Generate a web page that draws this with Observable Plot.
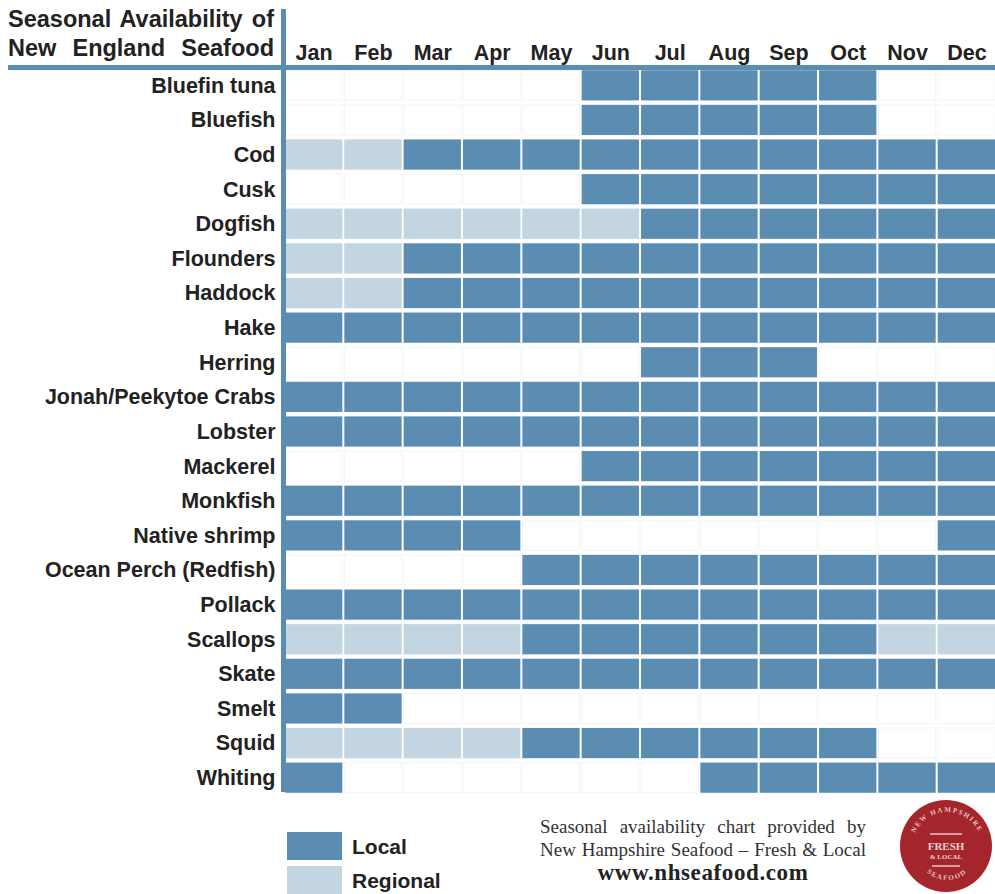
<!DOCTYPE html>
<html>
<head>
<meta charset="utf-8">
<script src="https://cdn.jsdelivr.net/npm/d3@7"></script>
<script src="https://cdn.jsdelivr.net/npm/@observablehq/plot@0.6"></script>
<style>
  html, body { margin: 0; padding: 0; background: #fff; }
  #wrap { position: relative; width: 995px; height: 894px; overflow: hidden; font-family: "Liberation Sans", Arial, sans-serif; color: #222; }
  #chart { position: absolute; left: 0; top: 0; }
  .title { position: absolute; left: 8px; width: 266px; font-weight: bold; font-size: 23.5px; line-height: 24px; text-align: justify; text-align-last: justify; white-space: nowrap; }
  .bar { position: absolute; background: #5b8cb1; }
  .sw { position: absolute; left: 287px; width: 55px; height: 28px; }
  .lg { position: absolute; left: 352px; font-weight: bold; font-size: 21px; line-height: 21px; }
  .cap { position: absolute; left: 540px; width: 326px; font-family: "Liberation Serif", "DejaVu Serif", serif; font-size: 19px; line-height: 19px; color: #333; text-align: justify; text-align-last: justify; white-space: nowrap; }
</style>
</head>
<body>
<div id="wrap">
  <div id="chart"></div>
</div>
<script>
const months = ["Jan","Feb","Mar","Apr","May","Jun","Jul","Aug","Sep","Oct","Nov","Dec"];
const fish = ["Bluefin tuna","Bluefish","Cod","Cusk","Dogfish","Flounders","Haddock","Hake","Herring",
  "Jonah/Peekytoe Crabs","Lobster","Mackerel","Monkfish","Native shrimp","Ocean Perch (Redfish)",
  "Pollack","Scallops","Skate","Smelt","Squid","Whiting"];
// L = Local, R = Regional, - = not available (one char per month, Jan..Dec)
const availability = [
  "-----LLLLL--", // Bluefin tuna
  "-----LLLLL--", // Bluefish
  "RRLLLLLLLLLL", // Cod
  "-----LLLLLLL", // Cusk
  "RRRRRRLLLLLL", // Dogfish
  "RRLLLLLLLLLL", // Flounders
  "RRLLLLLLLLLL", // Haddock
  "LLLLLLLLLLLL", // Hake
  "------LLL---", // Herring
  "LLLLLLLLLLLL", // Jonah/Peekytoe Crabs
  "LLLLLLLLLLLL", // Lobster
  "-----LLLLLLL", // Mackerel
  "LLLLLLLLLLLL", // Monkfish
  "LLLL-------L", // Native shrimp
  "----LLLLLLLL", // Ocean Perch (Redfish)
  "LLLLLLLLLLLL", // Pollack
  "RRRRLLLLLLRR", // Scallops
  "LLLLLLLLLLLL", // Skate
  "LL----------", // Smelt
  "RRRRLLLLLL--", // Squid
  "L------LLLLL"  // Whiting
];
const types = ["Local", "Regional"];
const typeColors = ["#5b8cb1", "#c3d5e0"];
const codeToType = {L: "Local", R: "Regional"};

const cells = [];
fish.forEach((f, i) => {
  availability[i].split("").forEach((c, j) => {
    if (codeToType[c]) cells.push({fish: f, month: months[j], type: codeToType[c]});
  });
});
const grid = [];
fish.forEach(f => months.forEach(m => grid.push({fish: f, month: m})));

const plot = Plot.plot({
  width: 995,
  height: 800,
  marginLeft: 285,
  marginRight: 0,
  marginTop: 68,
  marginBottom: 5,
  style: {fontFamily: "'Liberation Sans', Arial, sans-serif", background: "transparent"},
  x: {domain: months, paddingInner: 0.035, paddingOuter: 0, round: false, label: null},
  y: {domain: fish, paddingInner: 0.13, paddingOuter: 0.065, round: false, label: null},
  color: {domain: types, range: typeColors},
  marks: [
    Plot.cell(grid, {x: "month", y: "fish", fill: "none", stroke: "#f2f5f7", strokeWidth: 1}),
    Plot.cell(cells, {x: "month", y: "fish", fill: "type"}),
    Plot.axisX({anchor: "top", tickSize: 0, tickPadding: 9, fontSize: 21.5, fontWeight: "bold", fill: "#222", label: null}),
    Plot.axisY({anchor: "left", tickSize: 0, tickPadding: 10, fontSize: 21.5, fontWeight: "bold", fill: "#222", label: null})
  ]
});
const wrap = document.getElementById("wrap");
document.getElementById("chart").appendChild(plot);

function add(html) { wrap.insertAdjacentHTML("beforeend", html); }
// Title
add(`<div class="title" style="top:7px">Seasonal Availability of</div>`);
add(`<div class="title" style="top:36px">New England Seafood</div>`);
// Header lines
add(`<div class="bar" style="left:8px; top:65px; width:987px; height:5px"></div>`);
add(`<div class="bar" style="left:281px; top:9px; width:5px; height:783px"></div>`);
// Legend
add(`<div class="sw" style="top:832px; background:${typeColors[0]}"></div>`);
add(`<div class="lg" style="top:836px">${types[0]}</div>`);
add(`<div class="sw" style="top:866px; background:${typeColors[1]}"></div>`);
add(`<div class="lg" style="top:870px">${types[1]}</div>`);
// Caption
add(`<div class="cap" style="top:817px">Seasonal availability chart provided by</div>`);
add(`<div class="cap" style="top:840px">New Hampshire Seafood – Fresh &amp; Local</div>`);
add(`<div class="cap" style="top:861px; font-weight:bold; font-size:23px; line-height:23px; letter-spacing:0.6px; text-align:center; text-align-last:center; color:#222">www.nhseafood.com</div>`);
// Logo
add(`<svg style="position:absolute; left:900px; top:800px" width="94" height="94" viewBox="0 0 94 94">
  <defs><path id="arcTop" d="M 12 47 A 35 35 0 0 1 82 47"/><path id="arcBot" d="M 17 50 A 30 30 0 0 0 77 50"/></defs>
  <circle cx="46" cy="46" r="46" fill="#a4262c"/>
  <text font-family="Liberation Serif, serif" font-size="7" font-weight="bold" fill="#e8c4c4" letter-spacing="1.5"><textPath href="#arcTop" startOffset="50%" text-anchor="middle">NEW HAMPSHIRE</textPath></text>
  <text font-family="Liberation Serif, serif" font-size="7" font-weight="bold" fill="#e8c4c4" letter-spacing="1.5"><textPath href="#arcBot" startOffset="50%" text-anchor="middle">SEAFOOD</textPath></text>
  <line x1="30" y1="34" x2="62" y2="34" stroke="#e8c4c4" stroke-width="1.5"/>
  <text x="46" y="50" text-anchor="middle" font-family="Liberation Serif, serif" font-size="11" font-weight="bold" fill="#ecd0d0">FRESH</text>
  <text x="46" y="59" text-anchor="middle" font-family="Liberation Serif, serif" font-size="7" font-weight="bold" fill="#ecd0d0">&amp; LOCAL</text>
  <line x1="32" y1="66" x2="60" y2="66" stroke="#e8c4c4" stroke-width="1.5"/>
</svg>`);
</script>
</body>
</html>
